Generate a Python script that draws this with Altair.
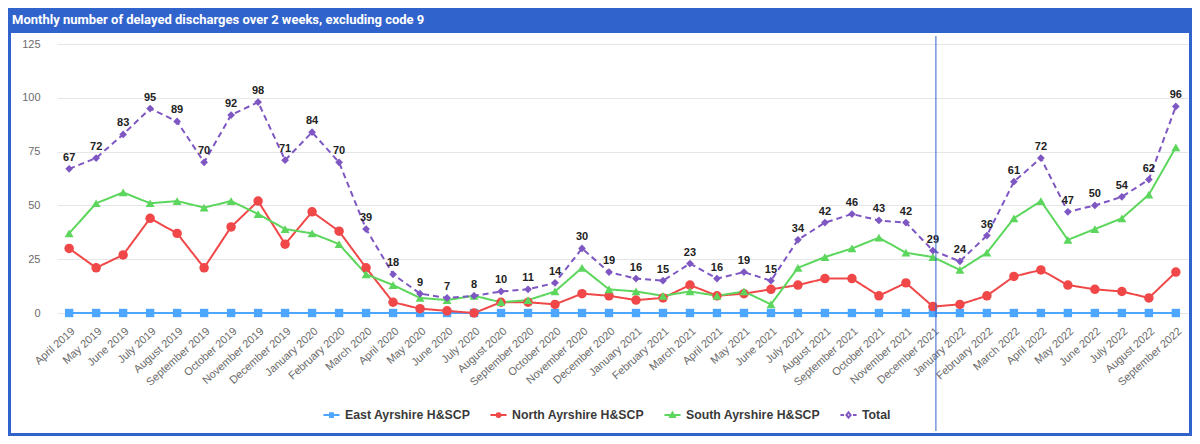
import altair as alt
import pandas as pd

months = [
    "April 2019", "May 2019", "June 2019", "July 2019", "August 2019", "September 2019",
    "October 2019", "November 2019", "December 2019", "January 2020", "February 2020",
    "March 2020", "April 2020", "May 2020", "June 2020", "July 2020", "August 2020",
    "September 2020", "October 2020", "November 2020", "December 2020", "January 2021",
    "February 2021", "March 2021", "April 2021", "May 2021", "June 2021", "July 2021",
    "August 2021", "September 2021", "October 2021", "November 2021", "December 2021",
    "January 2022", "February 2022", "March 2022", "April 2022", "May 2022", "June 2022",
    "July 2022", "August 2022", "September 2022",
]
east = [0] * 42
north = [30, 21, 27, 44, 37, 21, 40, 52, 32, 47, 38, 21, 5, 2, 1, 0, 5, 5, 4, 9, 8,
         6, 7, 13, 8, 9, 11, 13, 16, 16, 8, 14, 3, 4, 8, 17, 20, 13, 11, 10, 7, 19]
south = [37, 51, 56, 51, 52, 49, 52, 46, 39, 37, 32, 18, 13, 7, 6, 8, 5, 6, 10, 21, 11,
         10, 8, 10, 8, 10, 4, 21, 26, 30, 35, 28, 26, 20, 28, 44, 52, 34, 39, 44, 55, 77]
total = [67, 72, 83, 95, 89, 70, 92, 98, 71, 84, 70, 39, 18, 9, 7, 8, 10, 11, 14, 30, 19,
         16, 15, 23, 16, 19, 15, 34, 42, 46, 43, 42, 29, 24, 36, 61, 72, 47, 50, 54, 62, 96]

series_names = ["East Ayrshire H&SCP", "North Ayrshire H&SCP", "South Ayrshire H&SCP", "Total"]
series_colors = ["#4DA6FF", "#F04848", "#5CD65C", "#7E57C2"]
series_shapes = ["square", "circle", "triangle-up", "diamond"]
series_sizes = [70, 90, 80, 60]
series_dash = [[1, 0], [1, 0], [1, 0], [6, 4]]
divider_month = "December 2021"
title_text = "Monthly number of delayed discharges over 2 weeks, excluding code 9"

# legend symbols (stroked paths): short line with a compact marker in the middle
legend_paths = [
    "M-1,0H1M-0.3,-0.24H0.3M-0.3,0.24H0.3",
    "M-1,0H1M-0.24,0A0.24,0.24 0 1,0 0.24,0A0.24,0.24 0 1,0 -0.24,0",
    "M-1,0H1M0,-0.3L0.3,0.24L-0.3,0.24Z",
    "M-1,0H-0.55M0.55,0H1M0,-0.32L0.26,0L0,0.32L-0.26,0Z",
]

rows = []
for name, vals in zip(series_names, [east, north, south, total]):
    for m, v in zip(months, vals):
        rows.append({"month": m, "series": name, "value": v})
df = pd.DataFrame(rows)

BLUE = "#3163CC"
W, H = 1131, 269

x_enc = alt.X(
    "month:N", sort=months, title=None,
    scale=alt.Scale(type="point", padding=0.45),
    axis=alt.Axis(labelAngle=-42, labelFontSize=11, labelColor="#6b6b6b", labelFont="Liberation Sans",
                  ticks=False, domain=False, grid=False, labelPadding=12),
)
y_enc = alt.Y(
    "value:Q", title=None,
    scale=alt.Scale(domain=[0, 125], nice=False),
    axis=alt.Axis(values=[0, 25, 50, 75, 100, 125], labelFontSize=11, labelColor="#6b6b6b",
                  labelFont="Liberation Sans", ticks=False, domain=False, gridColor="#e6e6e6",
                  labelPadding=17),
)
color_scale = alt.Scale(domain=series_names, range=series_colors)

base = alt.Chart(df)

line_layers = []
point_layers = []
for name, col, shp, sz, dash in zip(series_names, series_colors, series_shapes, series_sizes, series_dash):
    sub = base.transform_filter(alt.datum.series == name)
    line_layers.append(
        sub.mark_line(strokeWidth=2, color=col, strokeDash=dash).encode(x=x_enc, y=y_enc)
    )
    point_layers.append(
        sub.mark_point(filled=True, opacity=1, shape=shp, size=sz, color=col).encode(x=x_enc, y=y_enc)
    )

labels = base.transform_filter(alt.datum.series == "Total").mark_text(
    dy=-11, fontSize=11, fontWeight="bold", color="#222222", font="Liberation Sans"
).encode(x=x_enc, y=y_enc, text="value:Q")

legend_def = alt.Legend(title=None, orient="none", direction="horizontal",
                        legendX=265, legendY=361, columnPadding=15, labelOffset=4,
                        symbolSize=260, symbolStrokeWidth=2, padding=0,
                        labelFontSize=12.3, labelFontWeight="bold", labelColor="#3a3a3a",
                        labelFont="Liberation Sans")

legend_layer = alt.Chart(pd.DataFrame({"series": series_names})).transform_filter("false").mark_point(
    filled=False, opacity=1, strokeWidth=2
).encode(
    color=alt.Color("series:N", scale=color_scale, legend=legend_def),
    shape=alt.Shape("series:N", scale=alt.Scale(domain=series_names, range=legend_paths), legend=legend_def),
)

one = pd.DataFrame({"k": [0]})
frame = alt.Chart(one).mark_rect(fill=None, stroke=BLUE, strokeWidth=3).encode(
    x=alt.value(-47.5), x2=alt.value(W + 2.5), y=alt.value(-34.5), y2=alt.value(H + 121.5)
)
title_bar = alt.Chart(one).mark_rect(fill=BLUE, cornerRadiusTopRight=8).encode(
    x=alt.value(-49), x2=alt.value(W + 4), y=alt.value(-36), y2=alt.value(-11)
)
title_mark = alt.Chart(one).mark_text(
    text=title_text, align="left", baseline="middle", color="white",
    fontSize=13, fontWeight="bold", font="Roboto"
).encode(x=alt.value(-45), y=alt.value(-24))

divider = alt.Chart(pd.DataFrame({"month": [divider_month]})).mark_rule(
    color="#3163CC", strokeWidth=1, xOffset=3
).encode(x=x_enc, y=alt.value(-8), y2=alt.value(H + 118))

chart = alt.layer(
    *line_layers, *point_layers, labels, legend_layer, divider, frame, title_bar, title_mark
).properties(
    width=W, height=H,
    autosize=alt.AutoSizeParams(type="none"),
    padding={"left": 49, "top": 36, "right": 4, "bottom": 123},
    background="white",
).configure_view(stroke=None)

chart.save("out.html", embed_options={"renderer": "svg", "actions": False})
